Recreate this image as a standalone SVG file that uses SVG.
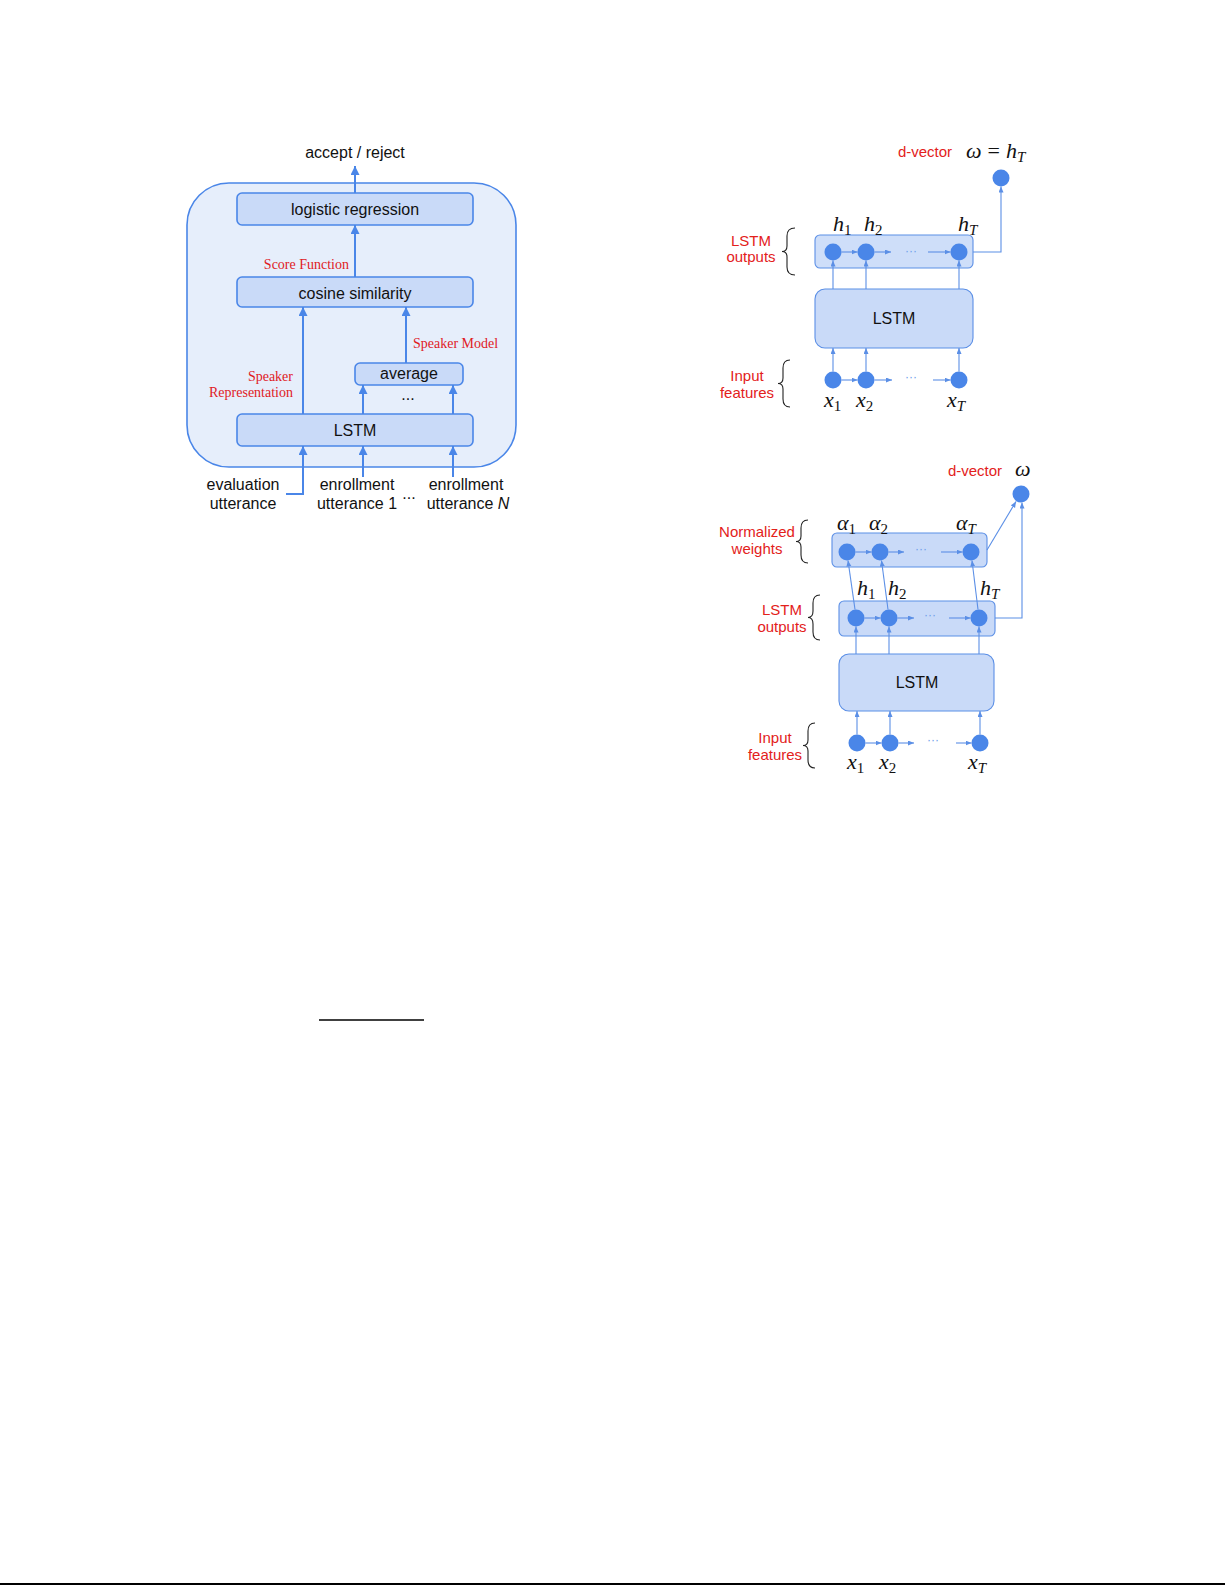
<svg xmlns="http://www.w3.org/2000/svg" width="1225" height="1585" viewBox="0 0 1225 1585">
<style>
.t{font-family:"Liberation Sans",Arial,sans-serif;font-size:16px;fill:#111}
.rs{font-family:"Liberation Serif","Times New Roman",serif;font-size:14px;fill:#e0201f}
.rl{font-family:"Liberation Sans",Arial,sans-serif;font-size:15px;fill:#e3211b;text-anchor:middle}
.m{font-family:"Liberation Serif","DejaVu Serif",serif;font-size:22px;font-style:italic;fill:#111}
.sub{font-size:15px;font-style:normal}
.subi{font-size:15px;font-style:italic}
.box{fill:#c9daf8;stroke:#4a86e8;stroke-width:1.6}
.rbox{fill:#c9daf8;stroke:#5b8fe6;stroke-width:1.1}
.node{fill:#4a86e8}
.c1{fill:none;stroke:#4a86e8;stroke-width:2}
.c2{fill:none;stroke:#5b8fe6;stroke-width:1.1}
.br{fill:none;stroke:#222;stroke-width:1.1}
.dots{font-family:"Liberation Sans",Arial,sans-serif;font-size:12px;fill:#6d9eeb;text-anchor:middle}
</style>
<defs>
<marker id="a1" markerUnits="userSpaceOnUse" markerWidth="10" markerHeight="10" refX="9" refY="4.5" orient="auto">
<path d="M0,0 L9,4.5 L0,9 z" fill="#4a86e8"/>
</marker>
<marker id="a2" markerUnits="userSpaceOnUse" markerWidth="7" markerHeight="6" refX="6" refY="2.5" orient="auto">
<path d="M0,0 L6,2.5 L0,5 z" fill="#5b8fe6"/>
</marker>
</defs>

<!-- Left diagram -->
<g id="outer">
<rect x="187" y="183" width="329" height="284" rx="42" fill="#e6eefb" stroke="#4a86e8" stroke-width="1.6"/>
</g>
<g id="logreg">
<rect class="box" x="237" y="193" width="236" height="32" rx="5"/>
<text class="t" x="355" y="215" text-anchor="middle">logistic regression</text>
</g>
<g id="cosine">
<rect class="box" x="237" y="277" width="236" height="30" rx="5"/>
<text class="t" x="355" y="299" text-anchor="middle">cosine similarity</text>
</g>
<g id="average">
<rect class="box" x="355" y="363" width="108" height="22" rx="5"/>
<text class="t" x="409" y="379" text-anchor="middle">average</text>
<text class="t" x="408" y="400" text-anchor="middle" font-size="14">...</text>
</g>
<g id="lstm-left">
<rect class="box" x="237" y="414" width="236" height="32" rx="5"/>
<text class="t" x="355" y="436" text-anchor="middle">LSTM</text>
</g>
<g id="left-labels">
<text class="t" x="355" y="158" text-anchor="middle">accept / reject</text>
<text class="rs" x="349" y="269" text-anchor="end">Score Function</text>
<text class="rs" x="413" y="348">Speaker Model</text>
<text class="rs" x="293" y="381" text-anchor="end">Speaker</text>
<text class="rs" x="293" y="397" text-anchor="end">Representation</text>
<text class="t" x="243" y="490" text-anchor="middle">evaluation</text>
<text class="t" x="243" y="509" text-anchor="middle">utterance</text>
<text class="t" x="357" y="490" text-anchor="middle">enrollment</text>
<text class="t" x="357" y="509" text-anchor="middle">utterance 1</text>
<text class="t" x="409" y="499" text-anchor="middle" font-size="14">...</text>
<text class="t" x="466" y="490" text-anchor="middle">enrollment</text>
<text class="t" x="468" y="509" text-anchor="middle">utterance <tspan font-style="italic">N</tspan></text>
</g>
<g id="left-connectors">
<path class="c1" d="M355,193 V166" marker-end="url(#a1)"/>
<path class="c1" d="M355,277 V225" marker-end="url(#a1)"/>
<path class="c1" d="M303,414 V307" marker-end="url(#a1)"/>
<path class="c1" d="M406,363 V307" marker-end="url(#a1)"/>
<path class="c1" d="M363,414 V385" marker-end="url(#a1)"/>
<path class="c1" d="M453,414 V385" marker-end="url(#a1)"/>
<path class="c1" d="M286,494 H303 V446" marker-end="url(#a1)"/>
<path class="c1" d="M363,477 V446" marker-end="url(#a1)"/>
<path class="c1" d="M453,477 V446" marker-end="url(#a1)"/>
</g>

<!-- Right top diagram -->
<g id="rt-outputs">
<rect class="rbox" x="815" y="235" width="158" height="33" rx="5" fill-opacity="0.9"/>
<circle class="node" cx="833" cy="252" r="8.5"/>
<circle class="node" cx="866" cy="252" r="8.5"/>
<circle class="node" cx="959" cy="252" r="8.5"/>
<text class="dots" x="911" y="255">···</text>
</g>
<g id="rt-lstm">
<rect class="rbox" x="815" y="289" width="158" height="59" rx="10"/>
<text class="t" x="894" y="324" text-anchor="middle" font-size="15">LSTM</text>
</g>
<g id="rt-inputs">
<circle class="node" cx="833" cy="380" r="8.5"/>
<circle class="node" cx="866" cy="380" r="8.5"/>
<circle class="node" cx="959" cy="380" r="8.5"/>
<text class="dots" x="911" y="381">···</text>
</g>
<g id="rt-dvector">
<circle class="node" cx="1001" cy="178" r="8.5"/>
<text class="rl" x="925" y="157">d-vector</text>
<text class="m" x="966" y="158">ω<tspan font-style="normal" dx="6">=</tspan><tspan dx="6">h</tspan><tspan class="subi" dy="4">T</tspan></text>
</g>
<g id="rt-labels">
<text class="m" x="833" y="231">h<tspan class="sub" dy="4">1</tspan></text>
<text class="m" x="864" y="231">h<tspan class="sub" dy="4">2</tspan></text>
<text class="m" x="958" y="231">h<tspan class="subi" dy="4">T</tspan></text>
<text class="m" x="824" y="407">x<tspan class="sub" dy="4">1</tspan></text>
<text class="m" x="856" y="407">x<tspan class="sub" dy="4">2</tspan></text>
<text class="m" x="947" y="407">x<tspan class="subi" dy="4">T</tspan></text>
<text class="rl" x="751" y="246">LSTM</text>
<text class="rl" x="751" y="262">outputs</text>
<text class="rl" x="747" y="381">Input</text>
<text class="rl" x="747" y="398">features</text>
<path class="br" d="M795,228 Q787,228 787,236 L787,246 Q787,251.5 782,251.5 Q787,251.5 787,257 L787,267 Q787,275 795,275"/>
<path class="br" d="M790,360 Q783,360 783,368 L783,378 Q783,383.5 778,383.5 Q783,383.5 783,389 L783,399 Q783,407 790,407"/>
</g>
<g id="rt-connectors">
<path class="c2" d="M841.5,252 H857.5" marker-end="url(#a2)"/>
<path class="c2" d="M874.5,252 H891" marker-end="url(#a2)"/>
<path class="c2" d="M928,252 H950.5" marker-end="url(#a2)"/>
<path class="c2" d="M973,252 H1001 V186.5" marker-end="url(#a2)"/>
<path class="c2" d="M833,289 V260.5" marker-end="url(#a2)"/>
<path class="c2" d="M866,289 V260.5" marker-end="url(#a2)"/>
<path class="c2" d="M959,289 V260.5" marker-end="url(#a2)"/>
<path class="c2" d="M833,371.5 V348" marker-end="url(#a2)"/>
<path class="c2" d="M866,371.5 V348" marker-end="url(#a2)"/>
<path class="c2" d="M959,371.5 V348" marker-end="url(#a2)"/>
<path class="c2" d="M841.5,380 H857.5" marker-end="url(#a2)"/>
<path class="c2" d="M874.5,380 H892" marker-end="url(#a2)"/>
<path class="c2" d="M933,380 H950.5" marker-end="url(#a2)"/>
</g>

<!-- Right bottom diagram -->
<g id="rb-weights">
<rect class="rbox" x="832" y="533" width="155" height="34" rx="5"/>
<circle class="node" cx="847" cy="552" r="8.5"/>
<circle class="node" cx="880" cy="552" r="8.5"/>
<circle class="node" cx="971" cy="552" r="8.5"/>
<text class="dots" x="921" y="553">···</text>
</g>
<g id="rb-outputs">
<rect class="rbox" x="839" y="601" width="156" height="35" rx="5"/>
<circle class="node" cx="856" cy="618" r="8.5"/>
<circle class="node" cx="889" cy="618" r="8.5"/>
<circle class="node" cx="979" cy="618" r="8.5"/>
<text class="dots" x="930" y="619">···</text>
</g>
<g id="rb-lstm">
<rect class="rbox" x="839" y="654" width="155" height="57" rx="10"/>
<text class="t" x="917" y="688" text-anchor="middle" font-size="15">LSTM</text>
</g>
<g id="rb-inputs">
<circle class="node" cx="857" cy="743" r="8.5"/>
<circle class="node" cx="890" cy="743" r="8.5"/>
<circle class="node" cx="980" cy="743" r="8.5"/>
<text class="dots" x="933" y="744">···</text>
</g>
<g id="rb-dvector">
<circle class="node" cx="1021" cy="494" r="8.5"/>
<text class="rl" x="975" y="476">d-vector</text>
<text class="m" x="1015" y="476">ω</text>
</g>
<g id="rb-labels">
<text class="m" x="837" y="530">α<tspan class="sub" dy="4">1</tspan></text>
<text class="m" x="869" y="530">α<tspan class="sub" dy="4">2</tspan></text>
<text class="m" x="956" y="530">α<tspan class="subi" dy="4">T</tspan></text>
<text class="m" x="857" y="595">h<tspan class="sub" dy="4">1</tspan></text>
<text class="m" x="888" y="595">h<tspan class="sub" dy="4">2</tspan></text>
<text class="m" x="980" y="595">h<tspan class="subi" dy="4">T</tspan></text>
<text class="m" x="847" y="769">x<tspan class="sub" dy="4">1</tspan></text>
<text class="m" x="879" y="769">x<tspan class="sub" dy="4">2</tspan></text>
<text class="m" x="968" y="769">x<tspan class="subi" dy="4">T</tspan></text>
<text class="rl" x="757" y="537">Normalized</text>
<text class="rl" x="757" y="554">weights</text>
<text class="rl" x="782" y="615">LSTM</text>
<text class="rl" x="782" y="632">outputs</text>
<text class="rl" x="775" y="743">Input</text>
<text class="rl" x="775" y="760">features</text>
<path class="br" d="M808,520 Q801,520 801,528 L801,536 Q801,541.5 796,541.5 Q801,541.5 801,547 L801,555 Q801,563 808,563"/>
<path class="br" d="M820,595 Q813,595 813,603 L813,611 Q813,617.5 808,617.5 Q813,617.5 813,624 L813,632 Q813,640 820,640"/>
<path class="br" d="M815,723 Q808,723 808,731 L808,740 Q808,745.5 803,745.5 Q808,745.5 808,751 L808,760 Q808,768 815,768"/>
</g>
<g id="rb-connectors">
<path class="c2" d="M855.5,552 H871.5" marker-end="url(#a2)"/>
<path class="c2" d="M888.5,552 H904" marker-end="url(#a2)"/>
<path class="c2" d="M941,552 H962.5" marker-end="url(#a2)"/>
<path class="c2" d="M864.5,618 H880.5" marker-end="url(#a2)"/>
<path class="c2" d="M897.5,618 H914" marker-end="url(#a2)"/>
<path class="c2" d="M949,618 H970.5" marker-end="url(#a2)"/>
<path class="c2" d="M855,609.5 L848,560.5" marker-end="url(#a2)"/>
<path class="c2" d="M888,609.5 L881.5,560.5" marker-end="url(#a2)"/>
<path class="c2" d="M978,609.5 L972,560.5" marker-end="url(#a2)"/>
<path class="c2" d="M987,550 L1016,501.5" marker-end="url(#a2)"/>
<path class="c2" d="M995,618 H1022 V502.5" marker-end="url(#a2)"/>
<path class="c2" d="M856,654 V626.5" marker-end="url(#a2)"/>
<path class="c2" d="M889,654 V626.5" marker-end="url(#a2)"/>
<path class="c2" d="M979,654 V626.5" marker-end="url(#a2)"/>
<path class="c2" d="M857,734.5 V711" marker-end="url(#a2)"/>
<path class="c2" d="M890,734.5 V711" marker-end="url(#a2)"/>
<path class="c2" d="M980,734.5 V711" marker-end="url(#a2)"/>
<path class="c2" d="M865.5,743 H881.5" marker-end="url(#a2)"/>
<path class="c2" d="M898.5,743 H914" marker-end="url(#a2)"/>
<path class="c2" d="M956,743 H971.5" marker-end="url(#a2)"/>
</g>

<!-- page rules -->
<line x1="319" y1="1020" x2="424" y2="1020" stroke="#000" stroke-width="1.3"/>
<line x1="0" y1="1584" x2="1225" y2="1584" stroke="#000" stroke-width="2"/>
</svg>
